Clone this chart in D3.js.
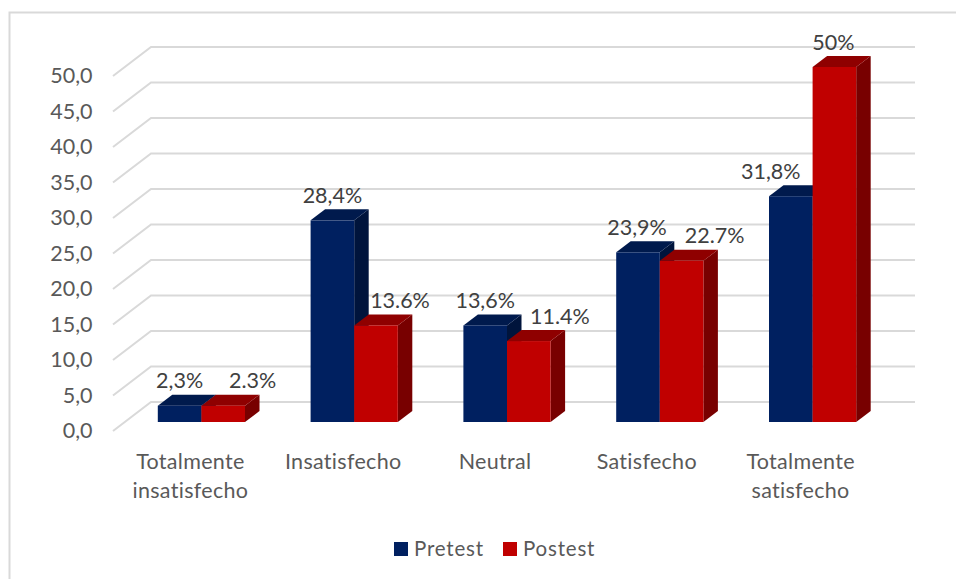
<!DOCTYPE html>
<html><head><meta charset="utf-8">
<script src="https://cdnjs.cloudflare.com/ajax/libs/d3/7.8.5/d3.min.js"></script>
<style>html,body{margin:0;padding:0;background:#fff}svg{display:block}text{font-family:Lato,"Open Sans",sans-serif;fill:#595959}</style>
</head><body><div id="c"></div>
<script>
const categories = [["Totalmente","insatisfecho"],["Insatisfecho"],["Neutral"],["Satisfecho"],["Totalmente","satisfecho"]];
const pretest = [2.3,28.4,13.6,23.9,31.8];
const postest = [2.3,13.6,11.4,22.7,50];
const pretestLabels = ["2,3%","28,4%","13,6%","23,9%","31,8%"];
const postestLabels = ["2.3%","13.6%","11.4%","22.7%","50%"];
const ticks = [0,5,10,15,20,25,30,35,40,45,50];
const seriesNames = ["Pretest","Postest"];

const W=956,H=579;
const svg=d3.select("#c").append("svg").attr("width",W).attr("height",H);
const x=d3.scaleBand().domain(d3.range(5)).range([113,877]);
const y=d3.scaleLinear().domain([0,50]).range([431,76]);
const floorDX=38,floorDY=-29;
const barOffX=12,barOffY=-9;
const dX=14.5,dY=-11;
const barW=43.6;
const fmt=v=>d3.format(".1f")(v).replace(".",",");

svg.append("path").attr("d",`M9.5 ${H} V12.5 H${W}`).attr("fill","none").attr("stroke","#d9d9d9").attr("stroke-width",2);

const g=svg.append("g").attr("fill","none").attr("stroke","#d9d9d9").attr("stroke-width",2);
g.selectAll("path").data(ticks).join("path")
 .attr("d",t=>`M${x.range()[0]} ${y(t)} L${x.range()[0]+floorDX} ${y(t)+floorDY} H${x.range()[1]+floorDX}`);

svg.append("g").selectAll("text").data(ticks).join("text")
 .attr("x",92.5).attr("y",t=>y(t)+7).attr("text-anchor","end")
 .attr("font-size",21.5).text(fmt);

const series=[
 {vals:pretest,labels:pretestLabels,front:"#002060",top:"#001a4d",side:"#00143c",pos:0,shift:[0,0,0,-1,-20]},
 {vals:postest,labels:postestLabels,front:"#c00000",top:"#8f0000",side:"#780000",pos:1,shift:[29.5,24,31,33,-1]}
];
series.forEach(s=>{
 const gg=svg.append("g");
 s.vals.forEach((v,i)=>{
  const x0=x(i)+x.bandwidth()/2+barOffX-barW+s.pos*barW;
  const yB=y(0)+barOffY, yT=y(v)+barOffY, x1=x0+barW;
  gg.append("path").attr("fill",s.side).attr("d",`M${x1} ${yT} L${x1+dX} ${yT+dY} V${yB+dY} L${x1} ${yB}Z`);
  gg.append("path").attr("fill",s.top).attr("d",`M${x0} ${yT} L${x0+dX} ${yT+dY} H${x1+dX} L${x1} ${yT}Z`);
  gg.append("rect").attr("fill",s.front).attr("x",x0).attr("y",yT).attr("width",barW).attr("height",yB-yT);
 });
});
series.forEach(s=>{
 s.vals.forEach((v,i)=>{
  const cx=x(i)+x.bandwidth()/2+barOffX-barW+s.pos*barW+barW/2;
  svg.append("text").attr("x",cx+s.shift[i]).attr("y",y(v)+barOffY+dY-6.5)
   .attr("text-anchor","middle").attr("font-size",21.5).style("fill","#404040").text(s.labels[i]);
 });
});
const catShift=[1,1,0,-1,0];
categories.forEach((c,i)=>{
 c.forEach((line,j)=>{
  svg.append("text").attr("x",x(i)+x.bandwidth()/2+catShift[i]).attr("y",469+j*29)
   .attr("text-anchor","middle").attr("font-size",21.5).style("letter-spacing","0.3px").text(line);
 });
});
const legX=[394,503];
seriesNames.forEach((n,i)=>{
 svg.append("rect").attr("x",legX[i]).attr("y",542).attr("width",14).attr("height",14).attr("fill",series[i].front);
 svg.append("text").attr("x",legX[i]+20).attr("y",556).attr("font-size",20.5).style("letter-spacing","0.8px").text(n);
});
</script></body></html>
